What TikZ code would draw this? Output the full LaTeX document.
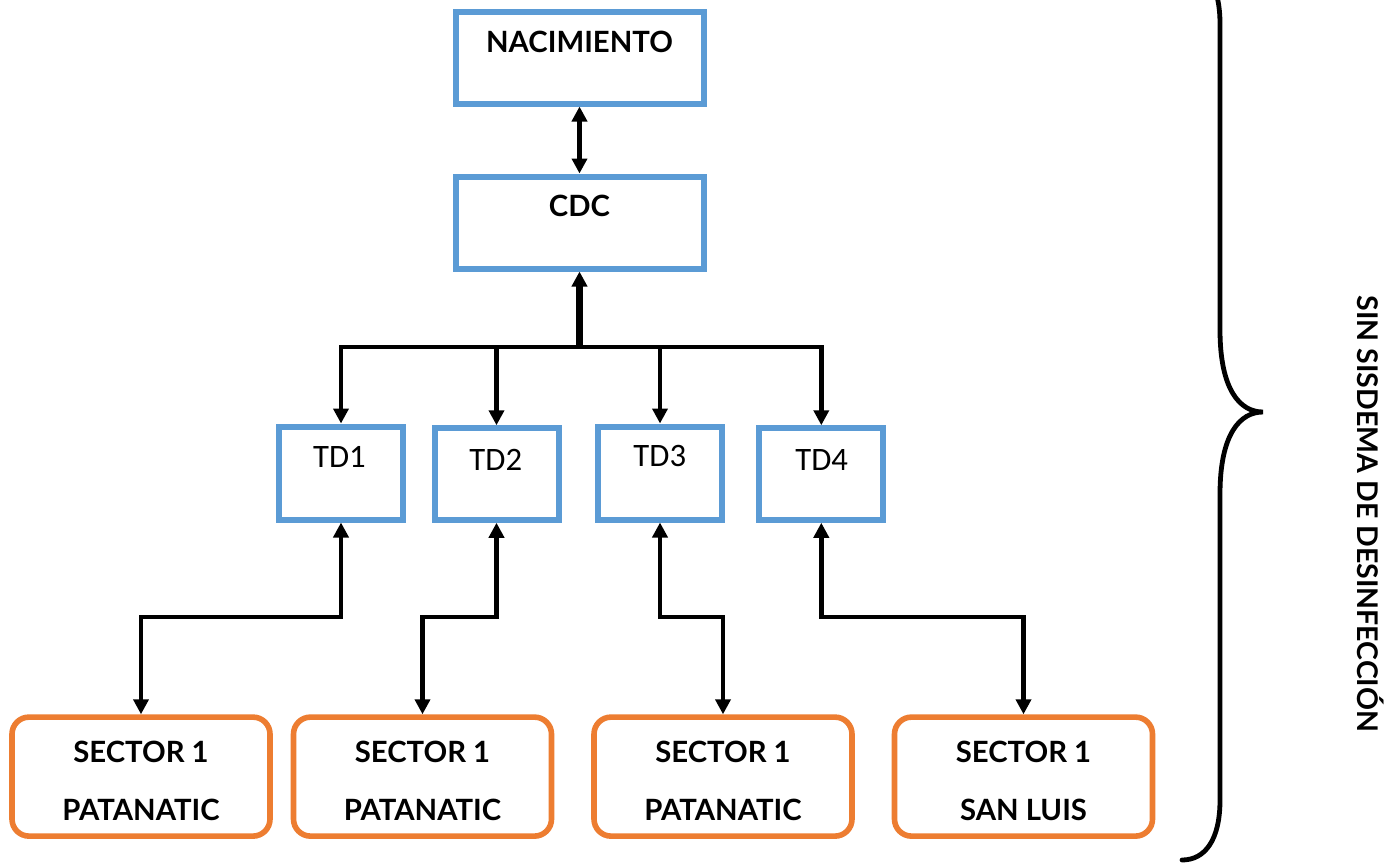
\documentclass[tikz,border=0pt]{standalone}
\usepackage{fontspec}
\setmainfont{Lato}
\newfontfamily\tdfont{Carlito}
\usetikzlibrary{arrows.meta}
\definecolor{boxblue}{HTML}{5B9BD5}
\definecolor{boxorange}{HTML}{ED7D31}
\begin{document}
\begin{tikzpicture}[x=1pt,y=-1pt,
  bluebox/.style={draw=boxblue,line width=6pt,fill=white,inner sep=0pt,minimum width=124pt},
  orangebox/.style={draw=boxorange,line width=5.6pt,fill=white,rounded corners=17pt,inner sep=0pt,minimum width=258pt,minimum height=119pt},
  boldtxt/.style={font=\fontsize{29.3}{35}\bfseries\selectfont,inner sep=0pt,anchor=base},
  tdtxt/.style={font=\fontsize{32.7}{38}\tdfont\selectfont,inner sep=0pt,anchor=base},
  conn/.style={line width=4.8pt,draw=black},
  tip/.tip={Triangle[length=15pt,width=15pt]}
  ]
\useasboundingbox[fill=white] (0,0) rectangle (1386,863);
% top boxes
\node[bluebox,minimum width=248pt,minimum height=92pt] (nac) at (579.5,57.5) {};
\node[boldtxt] (nact) at (579.5,52.7) {NACIMIENTO};
\node[bluebox,minimum width=248pt,minimum height=92pt] (cdc) at (579.5,222.5) {};
\node[boldtxt] (cdct) at (579.5,216.7) {CDC};
% TD boxes
\node[bluebox,minimum height=93pt] (td1) at (341,473) {};
\node[tdtxt] (td1t) at (339.5,467) {TD1};
\node[bluebox,minimum height=91.5pt] (td2) at (496.5,474) {};
\node[tdtxt] (td2t) at (495.8,470) {TD2};
\node[bluebox,minimum height=93pt] (td3) at (660,473) {};
\node[tdtxt] (td3t) at (659.8,466.7) {TD3};
\node[bluebox,minimum height=91.5pt] (td4) at (821.3,474) {};
\node[tdtxt] (td4t) at (821.7,470) {TD4};
% sector boxes
\node[orangebox] (s1) at (141,776.6) {};
\node[boldtxt] (s1a) at (141,762.7) {SECTOR 1};
\node[boldtxt] (s1b) at (141,820.7) {PATANATIC};
\node[orangebox] (s2) at (422.5,776.6) {};
\node[boldtxt] (s2a) at (422.5,762.7) {SECTOR 1};
\node[boldtxt] (s2b) at (422.5,820.7) {PATANATIC};
\node[orangebox] (s3) at (723,776.6) {};
\node[boldtxt] (s3a) at (723,762.7) {SECTOR 1};
\node[boldtxt] (s3b) at (723,820.7) {PATANATIC};
\node[orangebox] (s4) at (1023.5,776.6) {};
\node[boldtxt] (s4a) at (1023.5,762.7) {SECTOR 1};
\node[boldtxt] (s4b) at (1023.5,820.7) {SAN LUIS};
% connectors
\coordinate (bus) at (579.5,347);
\coordinate (lvl) at (0,617);
\draw[conn,{tip}-{tip}] (nac.south) -- (cdc.north);
\draw[conn,line width=6.5pt,-{tip}] (bus) -- (cdc.south);
\draw[conn,-{tip}] (bus) -| (td1.north);
\draw[conn,-{tip}] (bus) -| (td2.north);
\draw[conn,-{tip}] (bus) -| (td3.north);
\draw[conn,-{tip}] (bus) -| (td4.north);
\draw[conn,{tip}-{tip}] (td1.south) -- (td1.south |- lvl) -| (s1.north);
\draw[conn,{tip}-{tip}] (td2.south) -- (td2.south |- lvl) -| (s2.north);
\draw[conn,{tip}-{tip}] (td3.south) -- (td3.south |- lvl) -| (s3.north);
\draw[conn,{tip}-{tip}] (td4.south) -- (td4.south |- lvl) -| (s4.north);
% brace
\draw[line width=4.8pt,line cap=round] (1182,-36) .. controls (1205,-36) and (1220,-16) .. (1220,24)
  -- (1220,330) .. controls (1220,390) and (1240,412) .. (1263,412)
  .. controls (1240,412) and (1220,434) .. (1220,494)
  -- (1220,800) .. controls (1220,840) and (1205,860) .. (1182,860);
\node[font=\fontsize{28.5}{33}\bfseries\selectfont,inner sep=0pt,anchor=base,rotate=-90] (lbl) at (1357,514) {SIN SISDEMA DE DESINFECCIÓN};
\end{tikzpicture}
\end{document}
